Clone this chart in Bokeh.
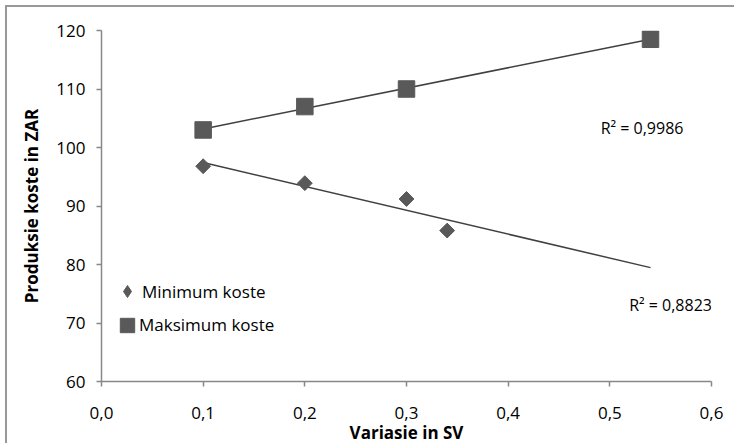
import numpy as np
from bokeh.plotting import figure
from bokeh.models import (FixedTicker, Legend, LegendItem, Label, Range1d)
from bokeh.embed import file_html
from bokeh.resources import INLINE

# ---- data ----
min_x = [0.1, 0.2, 0.3, 0.34]
min_y = [96.8, 93.9, 91.2, 85.8]
max_x = [0.1, 0.2, 0.3, 0.54]
max_y = [103.0, 107.0, 110.0, 118.5]
min_label = "Minimum koste"
max_label = "Maksimum koste"
r2_max_text = "R² = 0,9986"
r2_min_text = "R² = 0,8823"
x_ticks = [0.0, 0.1, 0.2, 0.3, 0.4, 0.5, 0.6]
x_tick_labels = ["0,0", "0,1", "0,2", "0,3", "0,4", "0,5", "0,6"]
y_ticks = [60, 70, 80, 90, 100, 110, 120]
x_title = "Variasie in SV"
y_title = "Produksie koste in ZAR"

FONT = "Open Sans"
FS = "17px"
MARK = "#595959"
LINE = "#404040"
AXIS = "#888888"

p = figure(width=734, height=446, output_backend="svg", toolbar_location=None,
           x_range=Range1d(0, 0.6), y_range=Range1d(60, 120),
           min_border_left=101, min_border_right=23, min_border_top=30, min_border_bottom=65)
p.outline_line_color = None
p.xgrid.visible = False
p.ygrid.visible = False
p.background_fill_color = "white"
p.border_fill_color = None
p.styles = {
    "background": "linear-gradient(#999999,#999999) 5px 5px / 2px 438px no-repeat, "
                  "linear-gradient(#999999,#999999) 5px 5px / 740px 2px no-repeat, white"
}

# trendlines (linear least squares fit)
all_x = min_x + max_x
tx = np.array([min(all_x), max(all_x)])
for xs, ys in ((min_x, min_y), (max_x, max_y)):
    k, b = np.polyfit(xs, ys, 1)
    p.line(tx, k * tx + b, line_color=LINE, line_width=1.5)

# minimum series: diamond (used for legend) under a rotated square (plot look)
r_min_leg = p.scatter(min_x, min_y, marker="diamond", size=13,
                      fill_color=MARK, line_color=MARK)
p.scatter(min_x, min_y, marker="square", angle=np.pi / 4, size=10.5,
          fill_color=MARK, line_color=MARK)
# maximum series: squares in screen units
r_max = p.rect(max_x, max_y, width=16.5, height=16.5, width_units="screen",
               height_units="screen", fill_color=MARK, line_color=MARK)

# axes
for ax in (p.xaxis[0], p.yaxis[0]):
    ax.axis_line_color = AXIS
    ax.axis_line_width = 1.5
    ax.major_tick_line_color = AXIS
    ax.major_tick_line_width = 1.5
    ax.major_tick_out = 5
    ax.major_tick_in = 0
    ax.minor_tick_line_color = None
    ax.major_label_text_font = FONT
    ax.major_label_text_font_size = FS
    ax.major_label_text_color = "black"
    ax.axis_label_text_font = FONT
    ax.axis_label_text_font_size = FS
    ax.axis_label_text_font_style = "bold"
    ax.axis_label_text_color = "black"

p.xaxis.ticker = FixedTicker(ticks=x_ticks)
p.xaxis.major_label_overrides = {t: l for t, l in zip(x_ticks, x_tick_labels)}
p.xaxis.major_label_standoff = 20
p.xaxis.axis_label = x_title
p.xaxis.axis_label_standoff = -1
p.yaxis.ticker = FixedTicker(ticks=y_ticks)
p.yaxis.major_label_standoff = 11
p.yaxis.axis_label = y_title
p.yaxis.axis_label_standoff = 10

# legends
leg1 = Legend(items=[LegendItem(label=min_label, renderers=[r_min_leg])],
              location=(11, 75), glyph_width=30, glyph_height=30, label_standoff=0,
              padding=0, margin=0, border_line_color=None, background_fill_alpha=0,
              label_text_font=FONT, label_text_font_size=FS, label_text_color="black")
leg2 = Legend(items=[LegendItem(label=max_label, renderers=[r_max])],
              location=(17, 45), glyph_width=18, glyph_height=18, label_standoff=3,
              padding=0, margin=0, border_line_color=None, background_fill_alpha=0,
              label_text_font=FONT, label_text_font_size=FS, label_text_color="black")
p.add_layout(leg1, "center")
p.add_layout(leg2, "center")

# R^2 labels
p.add_layout(Label(x=0.491, y=103.4, text=r2_max_text, text_baseline="middle",
                   text_font=FONT, text_font_size="16px", text_color="black"))
p.add_layout(Label(x=0.519, y=73.0, text=r2_min_text, text_baseline="middle",
                   text_font=FONT, text_font_size="16px", text_color="black"))

open("out.html", "w").write(file_html(p, INLINE))
